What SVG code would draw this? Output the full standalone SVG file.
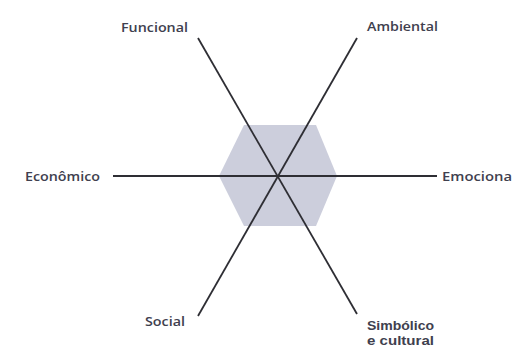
<svg xmlns="http://www.w3.org/2000/svg" width="512" height="352" viewBox="0 0 512 352">
<style>
.lbl{font-family:"Open Sans","Liberation Sans",sans-serif;font-size:13px;font-weight:600;fill:#40404e;}
.sm{font-family:"Liberation Sans",Arial,sans-serif;font-size:12.5px;font-weight:bold;}
.ax{stroke:#2e2e34;stroke-width:1.8;fill:none;}
</style>
<rect width="512" height="352" fill="#ffffff"/>
<g id="hexagon">
<polygon points="219,176 244,125 316,125 337,176 316,226 244,226" fill="#cccedc"/>
</g>
<g id="connectors">
<line class="ax" x1="198" y1="38" x2="357" y2="314"/>
<line class="ax" x1="357" y1="38" x2="198" y2="316"/>
<line class="ax" x1="113" y1="176" x2="437" y2="176"/>
</g>
<g id="funcional"><text class="lbl" x="121" y="32" textLength="67" lengthAdjust="spacingAndGlyphs">Funcional</text></g>
<g id="ambiental"><text class="lbl" x="367" y="31" textLength="71" lengthAdjust="spacingAndGlyphs">Ambiental</text></g>
<g id="economico"><text class="lbl" x="25" y="181" textLength="75" lengthAdjust="spacingAndGlyphs">Econômico</text></g>
<g id="emocional"><text class="lbl" x="442" y="181" textLength="70" lengthAdjust="spacingAndGlyphs">Emociona</text></g>
<g id="social"><text class="lbl" x="145" y="326" textLength="40" lengthAdjust="spacingAndGlyphs">Social</text></g>
<g id="simbolico"><text class="lbl sm" x="367" y="330" textLength="67" lengthAdjust="spacingAndGlyphs">Simbólico</text><text class="lbl sm" x="367" y="345" textLength="67" lengthAdjust="spacingAndGlyphs">e cultural</text></g>
</svg>
